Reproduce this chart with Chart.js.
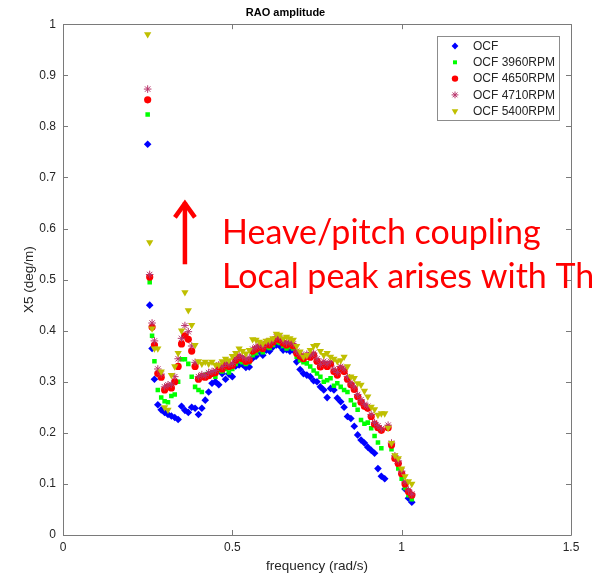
<!DOCTYPE html>
<html>
<head>
<meta charset="utf-8">
<script src="https://cdn.jsdelivr.net/npm/chart.js@4.4.0/dist/chart.umd.min.js"></script>
<style>
    html, body { margin: 0; padding: 0; background: #ffffff; }
    #wrap { width: 592px; height: 576px; }
</style>
</head>
<body>
<div id="wrap"><canvas id="raoChart" width="592" height="576"></canvas></div>
<script>
// frequency grid (rad/s), shared by all runs
const freq = [
    0.25, 0.256, 0.263, 0.27, 0.28, 0.29, 0.30, 0.31, 0.32, 0.33,
    0.34, 0.35, 0.36, 0.37, 0.38, 0.39, 0.40, 0.41, 0.42, 0.43,
    0.44, 0.45, 0.46, 0.47, 0.48, 0.49, 0.50, 0.51, 0.52, 0.53,
    0.54, 0.55, 0.56, 0.57, 0.58, 0.59, 0.60, 0.61, 0.62, 0.63,
    0.64, 0.65, 0.66, 0.67, 0.68, 0.69, 0.70, 0.71, 0.72, 0.73,
    0.74, 0.75, 0.76, 0.77, 0.78, 0.79, 0.80, 0.81, 0.82, 0.83,
    0.84, 0.85, 0.86, 0.87, 0.88, 0.89, 0.90, 0.91, 0.92, 0.93,
    0.94, 0.95, 0.96, 0.97, 0.98, 0.99, 1.00, 1.01, 1.02, 1.03
];

const ocf = [
    0.765, 0.45, 0.365, 0.305, 0.255, 0.245, 0.24, 0.236, 0.233, 0.23,
    0.226, 0.252, 0.244, 0.24, 0.25, 0.248, 0.236, 0.248, 0.264, 0.28,
    0.297, 0.30, 0.294, 0.316, 0.305, 0.315, 0.31, 0.331, 0.333, 0.334,
    0.328, 0.329, 0.346, 0.35, 0.359, 0.352, 0.362, 0.36, 0.368, 0.372,
    0.37, 0.362, 0.363, 0.36, 0.362, 0.339, 0.324, 0.316, 0.313, 0.31,
    0.302, 0.30, 0.29, 0.284, 0.269, 0.287, 0.284, 0.268, 0.261, 0.25,
    0.232, 0.228, 0.213, 0.196, 0.186, 0.18, 0.172, 0.166, 0.16, 0.13,
    0.115, 0.11, null, null, null, 0.14, 0.12, 0.09, 0.072, 0.064
];

const ocf3960 = [
    0.823, 0.495, 0.39, 0.34, 0.284, 0.269, 0.262, 0.26, 0.272, 0.275,
    0.30, 0.344, 0.344, 0.335, 0.31, 0.29, 0.284, 0.28, 0.313, 0.316,
    0.316, 0.31, 0.322, 0.32, 0.325, 0.318, 0.325, 0.335, 0.34, 0.338,
    0.335, 0.338, 0.352, 0.356, 0.362, 0.358, 0.368, 0.366, 0.372, 0.378,
    0.376, 0.37, 0.365, 0.368, 0.365, 0.349, 0.342, 0.338, 0.336, 0.33,
    0.322, 0.316, 0.31, 0.30, 0.303, 0.307, 0.292, 0.297, 0.29, 0.284,
    0.28, 0.264, 0.255, 0.245, 0.225, 0.218, 0.22, 0.209, 0.194, 0.181,
    0.17, null, null, 0.168, 0.15, 0.13, 0.11, 0.092, 0.078, 0.07
];

const ocf4650 = [
    0.852, 0.505, 0.407, 0.372, 0.316, 0.309, 0.284, 0.29, 0.288, 0.30,
    0.33, 0.374, 0.39, 0.383, 0.36, 0.33, 0.305, 0.31, 0.309, 0.312,
    0.316, 0.318, 0.33, 0.325, 0.333, 0.33, 0.332, 0.342, 0.348, 0.345,
    0.34, 0.342, 0.36, 0.364, 0.368, 0.365, 0.374, 0.372, 0.378, 0.384,
    0.382, 0.376, 0.372, 0.375, 0.37, 0.356, 0.35, 0.345, 0.35, 0.348,
    0.352, 0.34, 0.329, 0.335, 0.33, 0.335, 0.32, 0.313, 0.326, 0.32,
    0.305, 0.294, 0.285, 0.271, 0.26, 0.252, 0.248, 0.232, 0.217, 0.21,
    0.205, null, 0.21, 0.176, 0.15, 0.14, 0.12, 0.10, 0.085, 0.078
];

const ocf4710 = [
    0.873, 0.51, 0.415, 0.38, 0.325, 0.315, 0.29, 0.294, 0.295, 0.31,
    0.345, 0.385, 0.41, 0.398, 0.37, 0.338, 0.31, 0.314, 0.312, 0.318,
    0.32, 0.322, 0.333, 0.33, 0.337, 0.334, 0.336, 0.346, 0.352, 0.349,
    0.345, 0.347, 0.364, 0.368, 0.372, 0.369, 0.378, 0.376, 0.382, 0.388,
    0.386, 0.38, 0.376, 0.379, 0.374, 0.36, 0.354, 0.35, 0.354, 0.352,
    0.356, 0.345, 0.334, 0.34, 0.335, 0.34, 0.325, 0.318, 0.33, 0.325,
    0.31, 0.298, 0.29, 0.275, 0.265, 0.256, 0.252, 0.236, 0.22, 0.214,
    0.208, null, 0.215, 0.18, 0.155, 0.145, 0.125, 0.104, 0.088, 0.08
];

const ocf5400 = [
    0.98, 0.573, 0.404, 0.365, 0.365, 0.32, 0.25, 0.245, 0.313, 0.33,
    0.356, 0.40, 0.475, 0.44, 0.411, 0.372, 0.34, 0.335, 0.339, 0.335,
    0.339, 0.333, 0.333, 0.34, 0.345, 0.342, 0.35, 0.356, 0.365, 0.36,
    0.355, 0.362, 0.383, 0.382, 0.378, 0.375, 0.38, 0.382, 0.385, 0.394,
    0.392, 0.385, 0.388, 0.385, 0.382, 0.37, 0.359, 0.349, 0.352, 0.362,
    0.37, 0.372, 0.36, 0.352, 0.356, 0.349, 0.345, 0.34, 0.342, 0.349,
    0.33, 0.31, 0.307, 0.297, 0.294, 0.282, 0.271, 0.251, 0.246, 0.235,
    0.238, 0.238, 0.21, 0.18, 0.156, 0.15, 0.13, 0.115, 0.105, 0.10
];

const seriesLabels = ["OCF", "OCF 3960RPM", "OCF 4650RPM", "OCF 4710RPM", "OCF 5400RPM"];
const xTicks = [0, 0.5, 1, 1.5];
const yTicks = [0, 0.1, 0.2, 0.3, 0.4, 0.5, 0.6, 0.7, 0.8, 0.9, 1];

const axisColor = "#7a7a7a";
const textColor = "#262626";
const sansFont = "'Liberation Sans', Arial, Helvetica, sans-serif";

function toPoints(values) {
    const pts = [];
    values.forEach((v, i) => {
        if (v !== null) pts.push({ x: freq[i], y: v });
    });
    return pts;
}

// matlab prints 1 and 0.5, not 1.0
const tickText = (v) => String(Math.round(v * 10) / 10);

const styles = [
    { color: "#0000ff", pointStyle: "rectRot", radius: 3.8, rotation: 0 },
    { color: "#00ff00", pointStyle: "rect", radius: 3.2, rotation: 0 },
    { color: "#ff0000", pointStyle: "circle", radius: 3.6, rotation: 0 },
    { color: "#b8336a", pointStyle: "star", radius: 3.8, rotation: 0 },
    { color: "#bfbf00", pointStyle: "triangle", radius: 4.2, rotation: 180 },
];

const allValues = [ocf, ocf3960, ocf4650, ocf4710, ocf5400];

const datasets = allValues.map((vals, i) => ({
    label: seriesLabels[i],
    data: toPoints(vals),
    pointStyle: styles[i].pointStyle,
    pointRadius: styles[i].radius,
    pointHoverRadius: styles[i].radius,
    pointRotation: styles[i].rotation,
    backgroundColor: styles[i].color,
    borderColor: styles[i].color,
    borderWidth: i === 3 ? 1 : 0,
    showLine: false,
    order: allValues.length - i,
}));

// box around the axes with inward ticks, matlab style
const boxAxes = {
    id: "boxAxes",
    afterDatasetsDraw(chart) {
        const { ctx, chartArea: a, scales } = chart;
        const tl = 5;
        ctx.save();
        ctx.strokeStyle = axisColor;
        ctx.lineWidth = 1;
        ctx.beginPath();
        ctx.rect(Math.round(a.left) + 0.5, Math.round(a.top) + 0.5,
            Math.round(a.right - a.left), Math.round(a.bottom - a.top));
        scales.x.ticks.forEach((t) => {
            const px = Math.round(scales.x.getPixelForValue(t.value)) + 0.5;
            ctx.moveTo(px, a.bottom); ctx.lineTo(px, a.bottom - tl);
            ctx.moveTo(px, a.top); ctx.lineTo(px, a.top + tl);
        });
        scales.y.ticks.forEach((t) => {
            const py = Math.round(scales.y.getPixelForValue(t.value)) + 0.5;
            ctx.moveTo(a.left, py); ctx.lineTo(a.left + tl, py);
            ctx.moveTo(a.right, py); ctx.lineTo(a.right - tl, py);
        });
        ctx.stroke();
        ctx.restore();
    },
};

// legend box inside the axes (top right)
const insideLegend = {
    id: "insideLegend",
    afterDraw(chart) {
        const { ctx } = chart;
        const box = { left: 437, top: 36, width: 122, height: 84 };
        const rowH = 16.3;
        ctx.save();
        ctx.fillStyle = "#ffffff";
        ctx.fillRect(box.left, box.top, box.width, box.height);
        ctx.strokeStyle = "#8c8c8c";
        ctx.lineWidth = 1;
        ctx.strokeRect(box.left + 0.5, box.top + 0.5, box.width, box.height);
        ctx.font = "12px " + sansFont;
        ctx.textBaseline = "middle";
        ctx.textAlign = "left";
        chart.data.datasets.forEach((ds, i) => {
            const cy = box.top + 10 + i * rowH;
            ctx.fillStyle = ds.backgroundColor;
            ctx.strokeStyle = ds.borderColor;
            ctx.lineWidth = i === 3 ? 1 : 0.01;
            Chart.helpers.drawPoint(ctx, {
                pointStyle: ds.pointStyle,
                radius: ds.pointRadius - 0.4,
                rotation: ds.pointRotation,
                borderWidth: i === 3 ? 1 : 0,
            }, box.left + 18, cy);
            ctx.fillStyle = textColor;
            ctx.fillText(ds.label, box.left + 36, cy + 0.5);
        });
        ctx.restore();
    },
};

// red slide annotation: arrow and text laid over the plot
const slideNote = {
    id: "slideNote",
    afterDraw(chart) {
        const { ctx, scales } = chart;
        const ax = scales.x.getPixelForValue(0.36);
        const yBase = scales.y.getPixelForValue(0.53);
        const yTip = scales.y.getPixelForValue(0.655);
        ctx.save();
        ctx.strokeStyle = "#ff0000";
        ctx.lineWidth = 4.5;
        ctx.lineCap = "butt";
        ctx.lineJoin = "miter";
        ctx.beginPath();
        ctx.moveTo(ax, yBase);
        ctx.lineTo(ax, yTip + 2);
        ctx.stroke();
        ctx.beginPath();
        ctx.moveTo(ax - 10, yTip + 17);
        ctx.lineTo(ax, yTip + 3);
        ctx.lineTo(ax + 10, yTip + 17);
        ctx.stroke();
        ctx.fillStyle = "#ff0000";
        ctx.font = "34px Lato, 'Open Sans', sans-serif";
        ctx.textAlign = "left";
        ctx.textBaseline = "alphabetic";
        ctx.fillText("Heave/pitch coupling", 222, 244);
        ctx.fillText("Local peak arises with Thrust", 222, 288);
        ctx.restore();
    },
};

const ctx = document.getElementById("raoChart").getContext("2d");

new Chart(ctx, {
    type: "scatter",
    data: { datasets },
    options: {
        responsive: false,
        animation: false,
        layout: { padding: { top: 0, right: 21, bottom: 0, left: 0 } },
        scales: {
            x: {
                type: "linear",
                min: 0,
                max: 1.5,
                afterBuildTicks: (scale) => {
                    scale.ticks = xTicks.map((v) => ({ value: v }));
                },
                afterFit: (scale) => { scale.height = 41; },
                grid: { display: false, drawTicks: false },
                border: { display: false },
                ticks: {
                    padding: 5,
                    maxRotation: 0,
                    color: textColor,
                    font: { size: 12, family: sansFont },
                    callback: tickText,
                },
                title: {
                    display: true,
                    text: "frequency (rad/s)",
                    color: textColor,
                    font: { size: 13.5, family: sansFont },
                    padding: { top: 0, bottom: 2 },
                },
            },
            y: {
                type: "linear",
                min: 0,
                max: 1,
                afterBuildTicks: (scale) => {
                    scale.ticks = yTicks.map((v) => ({ value: v }));
                },
                afterFit: (scale) => { scale.width = 63; },
                grid: { display: false, drawTicks: false },
                border: { display: false },
                ticks: {
                    padding: 7,
                    color: textColor,
                    font: { size: 12, family: sansFont },
                    callback: tickText,
                },
                title: {
                    display: true,
                    text: "X5 (deg/m)",
                    color: textColor,
                    font: { size: 13.5, family: sansFont },
                    padding: { top: 21, bottom: 0 },
                },
            },
        },
        plugins: {
            legend: { display: false },
            tooltip: { enabled: false },
            title: {
                display: true,
                text: "RAO amplitude",
                color: "#000000",
                font: { size: 11, weight: "bold", family: sansFont },
                padding: { top: 6, bottom: 5 },
            },
        },
    },
    plugins: [boxAxes, insideLegend, slideNote],
});
</script>
</body>
</html>
